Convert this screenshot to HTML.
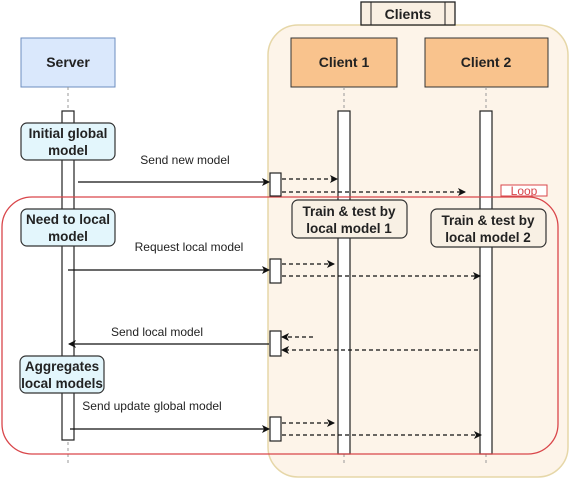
<!DOCTYPE html>
<html><head><meta charset="utf-8"><style>
body{margin:0;background:#fff;}
svg text{font-family:"Liberation Sans",sans-serif;font-weight:bold;fill:#222;}
</style></head><body>
<svg width="575" height="498" viewBox="0 0 575 498" xmlns="http://www.w3.org/2000/svg">
<defs>
<marker id="a" markerWidth="8" markerHeight="8" refX="7" refY="4" orient="auto" markerUnits="userSpaceOnUse"><path d="M0,0 L8,4 L0,8 L2,4Z" fill="#111"/></marker>
</defs>
<rect x="268" y="25" width="300" height="452" rx="30" fill="#fdf4e9" stroke="#e6d7a8" stroke-width="1.5"/>
<rect x="361" y="2" width="94" height="23" fill="#f9efe2" stroke="#222" stroke-width="1.3"/>
<line x1="371" y1="2" x2="371" y2="25" stroke="#222"/><line x1="445" y1="2" x2="445" y2="25" stroke="#222"/>
<text x="408" y="19" font-size="14" text-anchor="middle">Clients</text>
<rect x="21" y="38" width="94" height="49" fill="#dae8fc" stroke="#6c8ebf"/>
<text x="68" y="67" font-size="14" text-anchor="middle">Server</text>
<line x1="68" y1="87" x2="68" y2="111" stroke="#999" stroke-dasharray="3,3"/>
<line x1="68" y1="442" x2="68" y2="466" stroke="#999" stroke-dasharray="3,3"/>
<rect x="62" y="111" width="12" height="329" fill="#fff" stroke="#222" stroke-width="1.2"/>
<rect x="291" y="38" width="106" height="49" fill="#f9c38d" stroke="#333"/>
<text x="344" y="67" font-size="14" text-anchor="middle">Client 1</text>
<rect x="425" y="38" width="123" height="49" fill="#f9c38d" stroke="#333"/>
<text x="486" y="67" font-size="14" text-anchor="middle">Client 2</text>
<line x1="344" y1="87" x2="344" y2="111" stroke="#999" stroke-dasharray="3,3"/>
<line x1="486" y1="87" x2="486" y2="111" stroke="#999" stroke-dasharray="3,3"/>
<line x1="344" y1="454" x2="344" y2="466" stroke="#999" stroke-dasharray="3,3"/>
<line x1="486" y1="454" x2="486" y2="466" stroke="#999" stroke-dasharray="3,3"/>
<rect x="338" y="111" width="12" height="343" fill="#fff" stroke="#222" stroke-width="1.2"/>
<rect x="480" y="111" width="12" height="343" fill="#fff" stroke="#222" stroke-width="1.2"/>
<rect x="2" y="197" width="556" height="257" rx="30" fill="none" stroke="#d9464a" stroke-width="1.3"/>
<rect x="501" y="185" width="46" height="11" fill="#fff" stroke="#d9464a"/>
<text x="524" y="195" font-size="12" text-anchor="middle" style="fill:#d9464a;font-weight:normal">Loop</text>
<rect x="21" y="123" width="94" height="37" rx="6" fill="#e3f6fc" stroke="#333" stroke-width="1.2"/>
<text x="68" y="138" font-size="13.5" text-anchor="middle">Initial global</text>
<text x="68" y="155" font-size="13.5" text-anchor="middle">model</text>
<rect x="21" y="209" width="94" height="37" rx="6" fill="#e3f6fc" stroke="#333" stroke-width="1.2"/>
<text x="68" y="224" font-size="13.5" text-anchor="middle">Need to local</text>
<text x="68" y="241" font-size="13.5" text-anchor="middle">model</text>
<rect x="20" y="356" width="84" height="37" rx="6" fill="#e3f6fc" stroke="#333" stroke-width="1.2"/>
<text x="62" y="371" font-size="13.5" text-anchor="middle">Aggregates</text>
<text x="62" y="388" font-size="13.5" text-anchor="middle">local models</text>
<rect x="292" y="200" width="115" height="38" rx="6" fill="#f8f0e4" stroke="#333" stroke-width="1.2"/>
<text x="349" y="216" font-size="13.5" text-anchor="middle">Train &amp; test by</text>
<text x="349" y="233" font-size="13.5" text-anchor="middle">local model 1</text>
<rect x="431" y="209" width="115" height="38" rx="6" fill="#f8f0e4" stroke="#333" stroke-width="1.2"/>
<text x="488" y="225" font-size="13.5" text-anchor="middle">Train &amp; test by</text>
<text x="488" y="242" font-size="13.5" text-anchor="middle">local model 2</text>
<rect x="270" y="173" width="11" height="23" fill="#fff" stroke="#222" stroke-width="1.2"/>
<rect x="270" y="259" width="11" height="24" fill="#fff" stroke="#222" stroke-width="1.2"/>
<rect x="270" y="331" width="11" height="25" fill="#fff" stroke="#222" stroke-width="1.2"/>
<rect x="270" y="417" width="11" height="24" fill="#fff" stroke="#222" stroke-width="1.2"/>
<text x="185" y="164" font-size="12" text-anchor="middle" style="font-weight:normal">Send new model</text>
<text x="189" y="251" font-size="12" text-anchor="middle" style="font-weight:normal">Request local model</text>
<text x="157" y="336" font-size="12" text-anchor="middle" style="font-weight:normal">Send local model</text>
<text x="152" y="410" font-size="12" text-anchor="middle" style="font-weight:normal">Send update global model</text>
<g stroke="#111" stroke-width="1.3" fill="none">
<line x1="78" y1="182" x2="269" y2="182" marker-end="url(#a)"/>
<line x1="68" y1="270" x2="269" y2="270" marker-end="url(#a)"/>
<line x1="269" y1="344" x2="69" y2="344" marker-end="url(#a)"/>
<line x1="70" y1="429" x2="269" y2="429" marker-end="url(#a)"/>
</g>
<g stroke="#111" stroke-width="1.3" fill="none" stroke-dasharray="4,3">
<line x1="282" y1="179" x2="337" y2="179" marker-end="url(#a)"/>
<line x1="282" y1="192" x2="465" y2="192" marker-end="url(#a)"/>
<line x1="282" y1="264" x2="334" y2="264" marker-end="url(#a)"/>
<line x1="282" y1="276" x2="480" y2="276" marker-end="url(#a)"/>
<line x1="313" y1="337" x2="282" y2="337" marker-end="url(#a)"/>
<line x1="478" y1="350" x2="282" y2="350" marker-end="url(#a)"/>
<line x1="282" y1="423" x2="334" y2="423" marker-end="url(#a)"/>
<line x1="282" y1="435" x2="481" y2="435" marker-end="url(#a)"/>
</g>
</svg>
</body></html>
